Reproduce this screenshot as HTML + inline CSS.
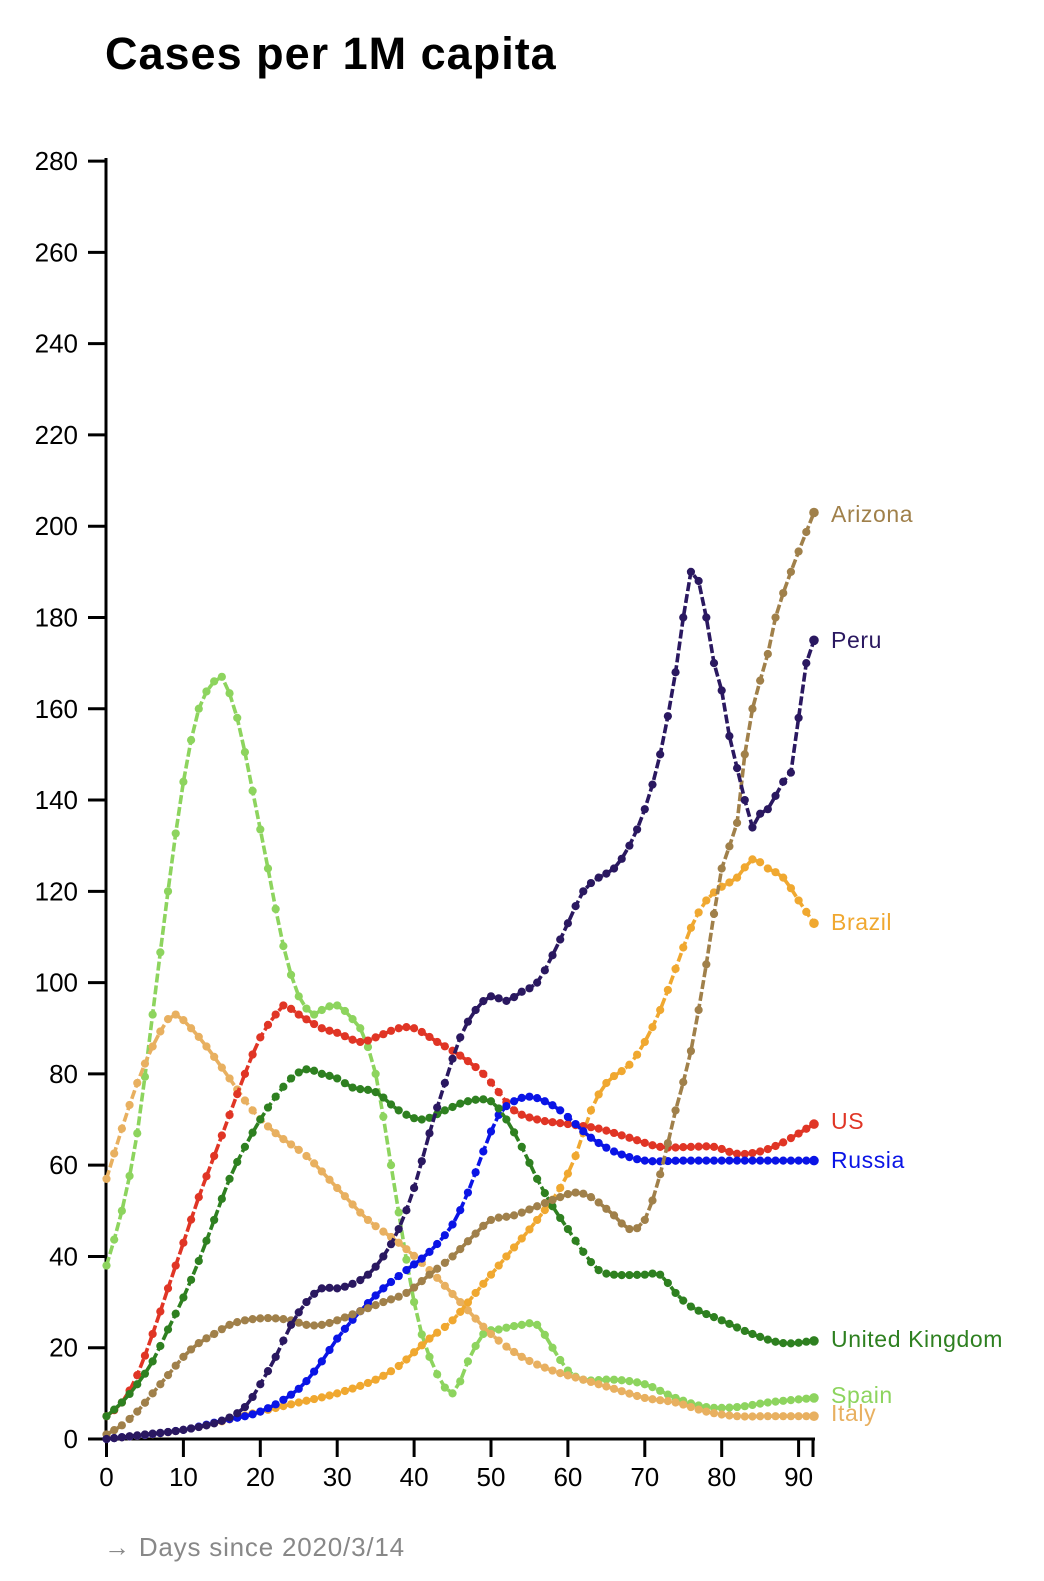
<!DOCTYPE html>
<html><head><meta charset="utf-8"><style>
body{margin:0;background:#fff;width:1044px;height:1581px;overflow:hidden}
svg{display:block}
</style></head><body>
<svg id="s" width="1044" height="1581" xmlns="http://www.w3.org/2000/svg" font-family="Liberation Sans, sans-serif">
<text x="105" y="69" font-size="45" font-weight="bold" fill="#000" letter-spacing="1">Cases per 1M capita</text>
<g id="axes"></g>
<g id="series"></g>
<text x="104" y="1556" font-size="26" fill="#888" letter-spacing="0.8">→ Days since 2020/3/14</text>
</svg>
<script>
const NS="http://www.w3.org/2000/svg";
const X=d=>106.5+d*7.69, Y=v=>1439-v*4.564;
const ax=document.getElementById('axes');
function el(t,a,p){const e=document.createElementNS(NS,t);for(const k in a)e.setAttribute(k,a[k]);(p||ax).appendChild(e);return e;}
el('line',{x1:106,y1:158,x2:106,y2:1440,stroke:'#000','stroke-width':3});
el('line',{x1:105,y1:1439,x2:815,y2:1439,stroke:'#000','stroke-width':3});
for(let v=0;v<=280;v+=20){const y=Y(v);el('line',{x1:88,y1:y,x2:106,y2:y,stroke:'#000','stroke-width':3});
const t=el('text',{x:78,y:y+9,'font-size':26,'text-anchor':'end',fill:'#000'});t.textContent=v;}
for(let d=0;d<=90;d+=10){const x=X(d);el('line',{x1:x,y1:1439,x2:x,y2:1457,stroke:'#000','stroke-width':3});
const t=el('text',{x:x,y:1486,'font-size':26,'text-anchor':'middle',fill:'#000'});t.textContent=d;}
el('line',{x1:813,y1:1439,x2:813,y2:1457,stroke:'#000','stroke-width':3});
const S=[
["Spain","#8dd45e",1395,[[0,38],[2,50],[4,67],[6,93],[8,120],[10,144],[12,160],[14,166],[15,167],[17,158],[19,142],[21,125],[23,108],[25,97],[27,93],[28,94],[30,95],[32,92],[33,90],[35,80],[37,60],[40,30],[42,18],[45,10],[47,17],[49,23],[51,24],[54,25],[56,25],[58,20],[60,15],[62,13],[66,13],[70,12],[74,9],[78,7],[82,7],[86,8],[92,9]]],
["Italy","#e8b060",1413,[[0,57],[2,68],[4,78],[6,86],[8,92],[9,93],[11,90],[13,86],[16,79],[19,72],[22,67],[26,62],[30,55],[34,48],[38,43],[42,37],[46,30],[50,23],[54,18],[58,15],[62,13],[66,11],[70,9],[74,8],[78,6],[82,5],[86,5],[92,5]]],
["Brazil","#f0a830",922,[[0,0],[10,2],[20,6],[25,8],[30,10],[35,13],[38,16],[40,19],[42,22],[45,26],[48,32],[52,40],[56,48],[59,55],[61,62],[63,72],[65,78],[68,82],[70,87],[72,94],[74,103],[76,112],[78,118],[80,121],[82,123],[84,127],[86,125],[88,123],[90,118],[92,113]]],
["US","#e03525",1121,[[0,5],[2,8],[4,14],[6,23],[8,33],[10,43],[12,53],[14,62],[16,71],[18,80],[20,88],[22,93],[23,95],[25,93],[28,90],[30,89],[33,87],[35,88],[38,90],[40,90],[43,87],[46,84],[49,80],[51,76],[53,72],[56,70],[60,69],[64,68],[68,66],[72,64],[76,64],[79,64],[82,62.5],[85,63],[88,65],[92,69]]],
["Russia","#0a14e6",1160,[[0,0],[10,2],[15,4],[20,6],[25,11],[28,17],[30,22],[33,28],[36,33],[39,37],[42,41],[45,47],[47,54],[49,63],[51,71],[53,74],[55,75],[57,74],[59,72],[61,69],[63,66],[66,63],[70,61],[75,61],[80,61],[92,61]]],
["United Kingdom","#2e8020",1339,[[0,5],[2,8],[4,12],[6,17],[8,24],[10,31],[12,39],[14,48],[16,57],[18,64],[20,70],[22,75],[24,79],[26,81],[28,80],[30,79],[32,77],[35,76],[38,72],[41,70],[44,72],[47,74],[50,74],[52,70],[54,64],[56,57],[58,51],[60,46],[62,41],[64,37],[66,36],[70,36],[72,36],[74,32],[76,29],[80,26],[84,23],[88,21],[92,21.5]]],
["Arizona","#a0804a",514,[[0,1],[2,3],[4,6],[6,10],[8,14],[10,18],[12,21],[14,23],[16,25],[18,26],[21,26.5],[24,26],[26,25],[28,25],[30,26],[33,28],[36,30],[39,32],[42,36],[45,40],[48,45],[50,48],[53,49],[56,51],[59,53],[61,54],[63,53],[66,49],[68,46],[70,48],[72,58],[74,72],[76,85],[78,104],[80,125],[82,135],[83,150],[84,160],[86,172],[87,180],[89,190],[92,203]]],
["Peru","#2a1860",640,[[0,0],[5,1],[10,2],[15,4],[18,7],[20,12],[22,18],[24,25],[26,30],[28,33],[30,33],[32,34],[34,36],[36,40],[38,46],[40,55],[42,67],[44,78],[46,88],[48,94],[50,97],[52,96],[54,98],[56,100],[58,106],[60,113],[62,120],[64,123],[66,125],[68,130],[70,138],[72,150],[74,168],[75,180],[76,190],[77,188],[78,180],[79,170],[80,164],[81,154],[82,147],[83,140],[84,134],[85,137],[86,138],[88,144],[89,146],[90,158],[91,170],[92,175]]]
];
const g=document.getElementById('series');
function interp(k){const out=[];for(let d=0;d<=92;d++){let i=0;while(i<k.length-2&&k[i+1][0]<d)i++;
const p1=k[i],p2=k[i+1],p0=k[Math.max(0,i-1)],p3=k[Math.min(k.length-1,i+2)];
const t=(d-p1[0])/(p2[0]-p1[0]);const m1=(p2[1]-p0[1])/(p2[0]-p0[0]||1)*(p2[0]-p1[0]),m2=(p3[1]-p1[1])/(p3[0]-p1[0]||1)*(p2[0]-p1[0]);
const t2=t*t,t3=t2*t;const v=(2*t3-3*t2+1)*p1[1]+(t3-2*t2+t)*m1+(-2*t3+3*t2)*p2[1]+(t3-t2)*m2;out.push(Math.max(0,v));}return out;}
for(const [n,c,ly,k] of S){const v=interp(k);
el('path',{d:v.map((y,i)=>(i?'L':'M')+X(i).toFixed(1)+' '+Y(y).toFixed(1)).join(''),fill:'none',stroke:c,'stroke-width':3.6,'stroke-dasharray':'9 3'},g);
v.forEach((y,i)=>el('circle',{cx:X(i),cy:Y(y),r:(i==92?4.8:4.1),fill:c},g));
const t=el('text',{x:831,y:ly+8,'font-size':23,fill:c,'letter-spacing':0.6},g);t.textContent=n;}
</script>
</body></html>
